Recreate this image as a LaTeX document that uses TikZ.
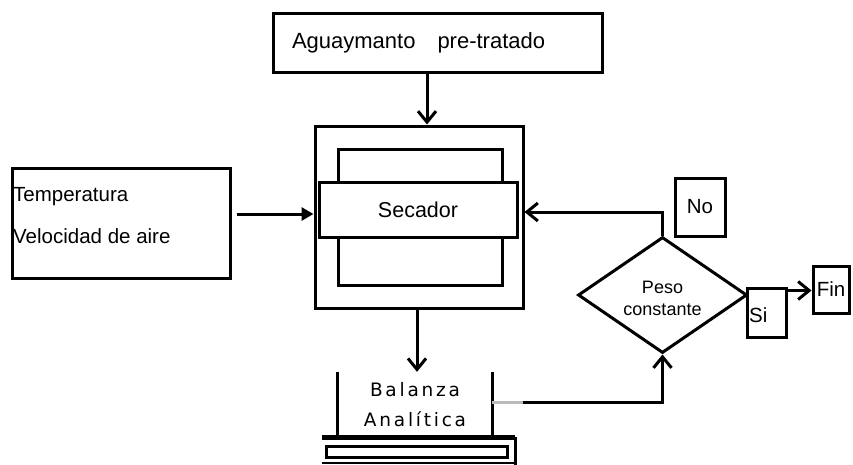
\documentclass[tikz,border=0pt]{standalone}
\usepackage{fontspec}
\setmainfont{Liberation Sans}
\newfontfamily\balfont[LetterSpace=15]{DejaVu Sans}
\usetikzlibrary{arrows.meta,shapes.geometric,calc}
\newcommand\fsz[2]{\fontsize{#1}{#2}\selectfont}
\tikzset{
  box/.style={draw, line width=3pt, inner sep=0pt},
  arr/.style={line width=3pt, -{Straight Barb[length=11pt,width=18pt]}},
  tri/.style={line width=3pt, -{Triangle[length=12pt,width=13pt]}},
  plain/.style={line width=3pt}
}
\begin{document}
\begin{tikzpicture}[x=1pt,y=-1pt]
\fill[white] (0,0) rectangle (853,464);
\useasboundingbox (0,0) rectangle (853,464);

% top box
\node[box, minimum width=329pt, minimum height=59pt, text width=291pt, inner xsep=19pt, align=left, font=\fsz{22}{26}] (top) at (437.5,42.5) {Aguaymanto\hspace{22pt}pre-tratado};

% conditions box
\node[box, minimum width=218pt, minimum height=110pt] (cond) at (121,223) {};
\node[anchor=west, inner sep=0pt, align=left, font=\fsz{20.5}{42}] (condtxt) at (13,216) {Temperatura\\Velocidad de aire};

% dryer
\node[box, minimum width=208pt, minimum height=182pt] (outer) at (419,217) {};
\node[box, minimum width=164pt, minimum height=136pt] (inner) at (420,217) {};
\node[box, fill=white, minimum width=198pt, minimum height=55pt, font=\fsz{21.5}{25}] (sec) at (418,209.5) {Secador};

% balance
\node[minimum width=154pt, minimum height=65pt, inner sep=0pt, align=center, font=\balfont\fsz{18.5}{30}] (bal) at (415,404.5) {Balanza\\Analítica};
\draw[plain] (bal.north west) -- (bal.south west) (bal.north east) -- (bal.south east);
\draw[line width=5pt] (322,437) -- (515,437);
\draw[plain] (515,437) -- (515,466);
\draw[plain] (326,446) rectangle (507,457);
\draw[line width=1.2pt] (322,463) -- (515,463);

% decision
\node[draw, shape=diamond, line width=3pt, aspect=1.46, minimum width=169pt, minimum height=116pt, inner sep=0pt] (dia) at (662.5,295) {};
\node[inner sep=0pt, align=center, font=\fsz{18}{22}] (diatxt) at (662.5,298) {Peso\\constante};

\node[box, minimum width=50pt, minimum height=58pt, font=\fsz{20.5}{24}] (no) at (700,207) {No};
\node[box, minimum width=39pt, minimum height=49pt] (si) at (766.5,312.5) {};
\node[anchor=west, inner sep=0pt, font=\fsz{20.5}{24}] (sitxt) at (749,315) {Si};
\node[box, minimum width=36pt, minimum height=47pt, font=\fsz{20.5}{24}] (fin) at (831,289.5) {Fin};

% connectors
\draw[arr] ([xshift=-10.5pt]top.south) -- ([xshift=8pt]outer.north);
\coordinate (c1) at ($(cond.east)+(5,-9)$);
\draw[tri] (c1) -- (c1 -| outer.west);
\draw[arr] ([xshift=-2pt]outer.south) -- ([xshift=-2pt]outer.south |- bal.north);
\coordinate (c2) at ($(outer.east)+(0,-5)$);
\draw[arr] (dia.north) |- (c2);
\coordinate (c3) at ($(bal.east)+(0,-2.5)$);
\coordinate (c3b) at ($(c3)+(31,0)$);
\draw[line width=3pt, gray!55] (c3) -- (c3b);
\draw[arr] (c3b) -| (dia.south);
\coordinate (c4) at ($(si.north east)+(0,4)$);
\draw[arr] (c4) -- (c4 -| fin.west);
\end{tikzpicture}
\end{document}
